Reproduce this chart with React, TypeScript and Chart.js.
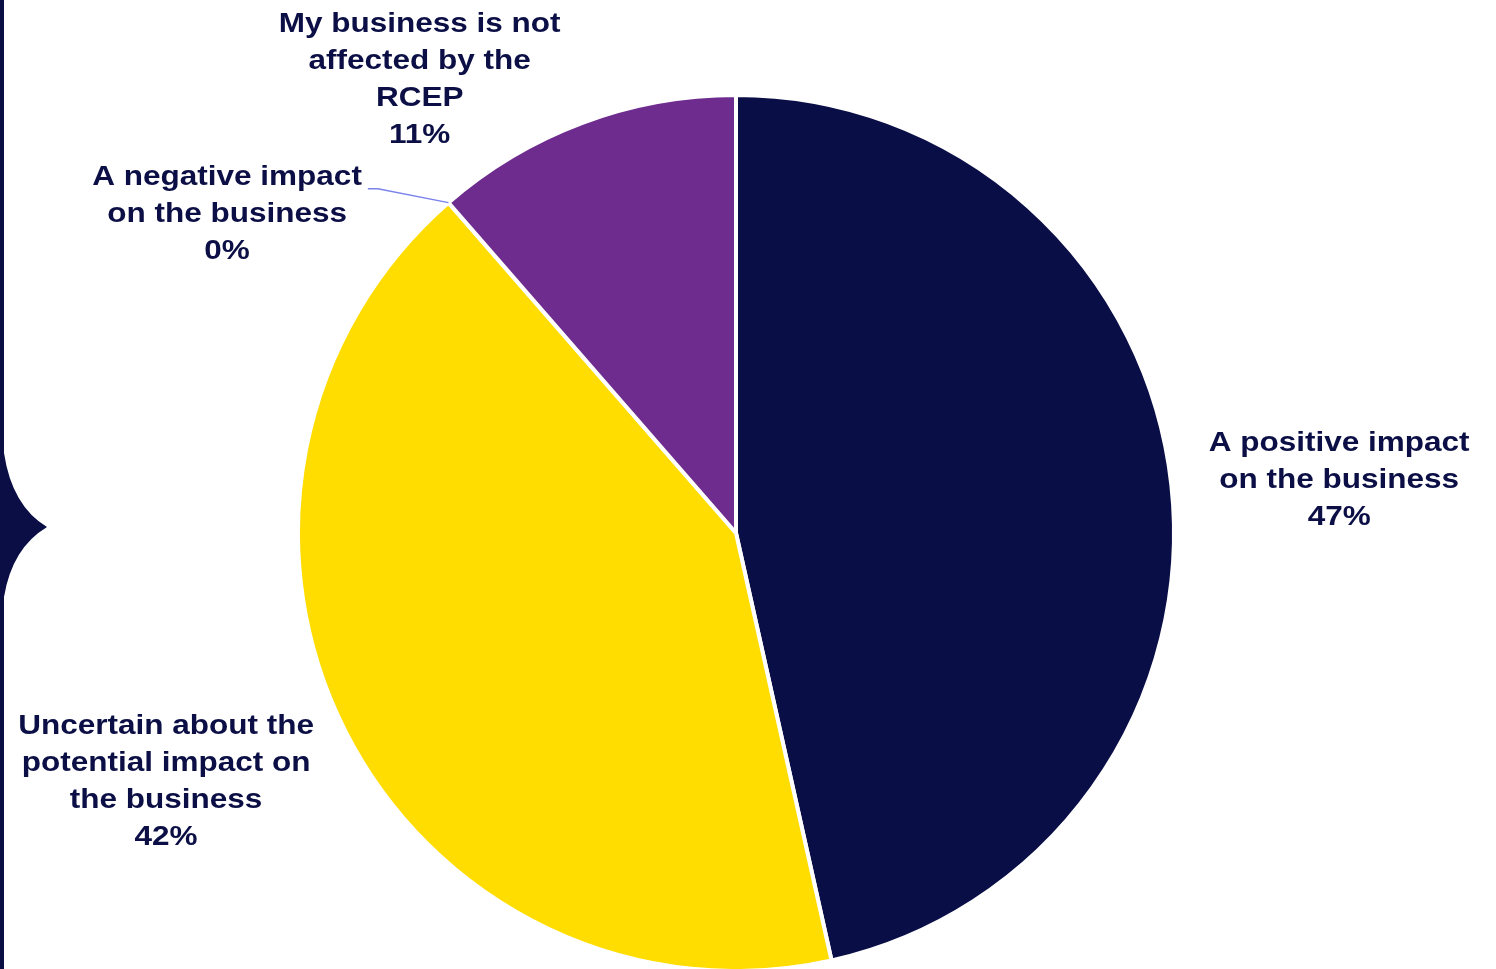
import React, { useEffect, useRef } from "react";
import { Chart, registerables } from "chart.js";

Chart.register(...registerables);

const categories: string[][] = [
  ["A positive impact", "on the business"],
  ["Uncertain about the", "potential impact on", "the business"],
  ["A negative impact", "on the business"],
  ["My business is not", "affected by the", "RCEP"],
];
const shares: number[] = [46.5, 42.1, 0, 11.4];
const sliceColors: string[] = ["#0A0E46", "#FFDD00", "#7B83EB", "#6F2C8F"];
// label placement relative to each slice: angle shift (deg) and distance (× radius)
const labelAngleShift: number[] = [1.0, 3.5, -16.7, -14.2];
const labelDistance: number[] = [1.383, 1.417, 1.374, 1.268];

const TEXT = "#0B0F45";
const FONT_PX = 28;
const LINE_H = 37;
const STRETCH = 1.125;
const TEXT_DROP = 3;

const bracePlugin = {
  id: "brace",
  beforeDraw(chart: any) {
    const ctx = chart.ctx;
    ctx.save();
    ctx.fillStyle = "#0A0E45";
    ctx.beginPath();
    ctx.moveTo(0, 0);
    ctx.lineTo(4, 0);
    ctx.lineTo(4, 453);
    ctx.quadraticCurveTo(12, 506, 47, 527);
    ctx.quadraticCurveTo(12, 548, 4, 597);
    ctx.lineTo(4, chart.height);
    ctx.lineTo(0, chart.height);
    ctx.closePath();
    ctx.fill();
    ctx.restore();
  },
};

const labelPlugin = {
  id: "sliceLabels",
  afterDraw(chart: any) {
    const ctx = chart.ctx;
    const meta = chart.getDatasetMeta(0);
    ctx.save();
    ctx.font = `bold ${FONT_PX}px "Liberation Sans", Arial, sans-serif`;
    ctx.fillStyle = TEXT;
    ctx.textAlign = "center";
    ctx.textBaseline = "middle";
    meta.data.forEach((arc: any, i: number) => {
      const p = arc.getProps(["x", "y", "startAngle", "endAngle", "outerRadius"], true);
      const mid = (p.startAngle + p.endAngle) / 2;
      const a = mid + (labelAngleShift[i] * Math.PI) / 180;
      const cx = p.x + Math.cos(a) * p.outerRadius * labelDistance[i];
      const cy = p.y + Math.sin(a) * p.outerRadius * labelDistance[i] + TEXT_DROP;
      const lines = [...categories[i], `${Math.round(shares[i])}%`];
      const top = cy - ((lines.length - 1) * LINE_H) / 2;
      lines.forEach((ln, k) => {
        ctx.save();
        ctx.translate(cx, top + k * LINE_H);
        ctx.scale(STRETCH, 1);
        ctx.fillText(ln, 0, 0);
        ctx.restore();
      });
      if (shares[i] === 0) {
        const w = ctx.measureText(lines[0]).width * STRETCH;
        const rightX = cx + w / 2;
        const ly = top + 11;
        const ex = p.x + Math.cos(mid) * p.outerRadius;
        const ey = p.y + Math.sin(mid) * p.outerRadius;
        ctx.strokeStyle = "#7B83EB";
        ctx.lineWidth = 1.5;
        ctx.beginPath();
        ctx.moveTo(rightX + 6, ly);
        ctx.lineTo(rightX + 16, ly);
        ctx.lineTo(ex, ey);
        ctx.stroke();
      }
    });
    ctx.restore();
  },
};

export default function App() {
  const ref = useRef<HTMLCanvasElement | null>(null);
  useEffect(() => {
    if (!ref.current) return;
    const chart = new Chart(ref.current, {
      type: "pie",
      data: {
        labels: categories.map((c) => c.join(" ")),
        datasets: [
          {
            data: shares,
            backgroundColor: sliceColors,
            borderColor: "#FFFFFF",
            borderWidth: 4,
          },
        ],
      },
      options: {
        responsive: false,
        animation: false,
        radius: 438,
        layout: { padding: { top: 97, bottom: 0, left: 0, right: 24 } },
        plugins: {
          legend: { display: false },
          tooltip: { enabled: false },
          title: { display: false },
        },
      } as any,
      plugins: [bracePlugin, labelPlugin],
    });
    return () => chart.destroy();
  }, []);
  return (
    <div style={{ position: "absolute", left: 0, top: 0, width: 1496, height: 969, background: "#FFFFFF" }}>
      <canvas ref={ref} width={1496} height={969} style={{ width: 1496, height: 969, display: "block" }} />
    </div>
  );
}
